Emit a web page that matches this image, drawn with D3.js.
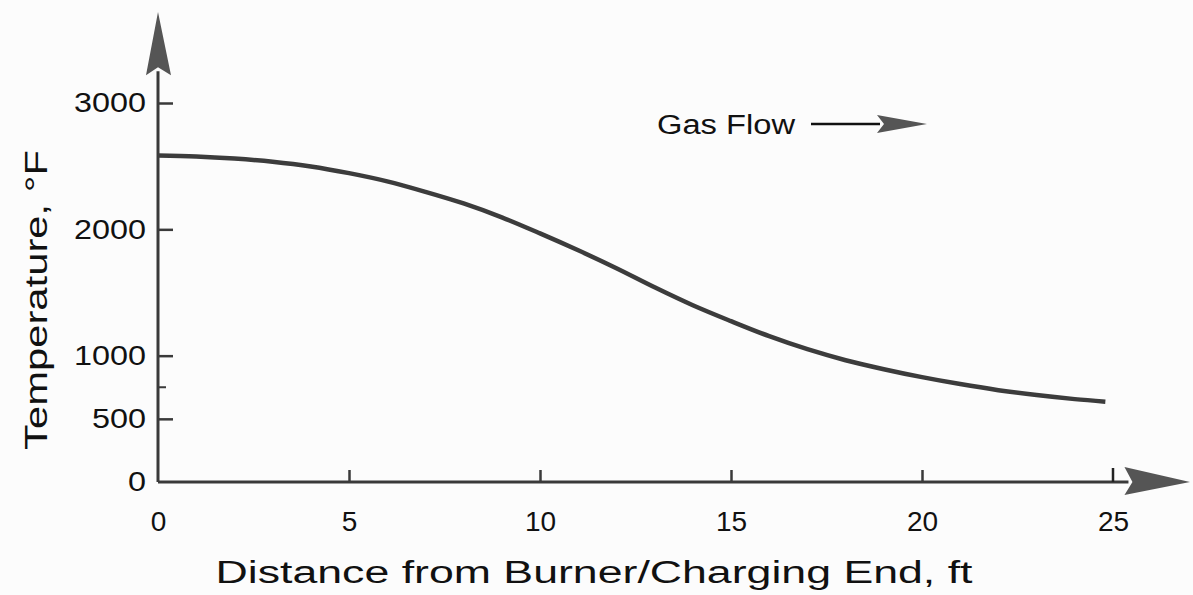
<!DOCTYPE html>
<meta charset="utf-8">
<script src="https://d3js.org/d3.v7.min.js"></script>
<style>
  body { margin: 0; background: #fcfcfc; }
  text { font-family: "Liberation Sans", Arial, sans-serif; fill: #111; }
</style>
<div id="chart"></div>
<script>
// values
var distance = [0, 1, 2, 3, 4, 5, 6, 7, 8, 9, 10, 11, 12, 13, 14, 15, 16, 17, 18, 19, 20, 21, 22, 23, 24, 24.8];
var temperature = [2585, 2577, 2560, 2535, 2498, 2445, 2380, 2297, 2205, 2095, 1968, 1834, 1692, 1541, 1399, 1273, 1154, 1051, 964, 893, 830, 775, 727, 688, 656, 636];
var xTicks = [0, 5, 10, 15, 20, 25];
var yTicks = [0, 500, 1000, 2000, 3000];
var yMinorTicks = [750];

var W = 1193, H = 595;
var plotLeft = 158, plotRight = 1113, plotBottom = 482, plotTop = 103;

var svg = d3.select("#chart").append("svg")
    .attr("width", W)
    .attr("height", H);

svg.append("rect").attr("width", W).attr("height", H).attr("fill", "#fcfcfc");

var x = d3.scaleLinear().domain([0, 25]).range([plotLeft, plotRight]);
var y = d3.scaleLinear().domain([0, 3000]).range([plotBottom, plotTop]);

var axisColor = "#3a3a3a";

// x axis line + arrow
var xEnd = x(25.3);
svg.append("line")
    .attr("x1", x(0)).attr("x2", xEnd + 4)
    .attr("y1", y(0)).attr("y2", y(0))
    .attr("stroke", axisColor).attr("stroke-width", 3);
svg.append("path")
    .attr("d", "M" + xEnd + "," + (y(0) - 15) + " L1190," + y(0) + " L" + xEnd + "," + (y(0) + 13) + " L" + (xEnd + 8) + "," + y(0) + "Z")
    .attr("fill", "#555");

// y axis line + arrow
var yEnd = y(3220);
svg.append("line")
    .attr("x1", x(0)).attr("x2", x(0))
    .attr("y1", y(0)).attr("y2", yEnd - 4)
    .attr("stroke", axisColor).attr("stroke-width", 3);
svg.append("path")
    .attr("d", "M" + (x(0) - 12) + "," + yEnd + " L" + x(0) + ",12 L" + (x(0) + 13) + "," + yEnd + " L" + x(0) + "," + (yEnd - 8) + "Z")
    .attr("fill", "#555");

// x ticks (pointing up) and labels
var xAxis = d3.axisBottom(x).tickValues(xTicks).tickSize(0).tickPadding(27).tickFormat(d3.format("d"));
var gx = svg.append("g").attr("transform", "translate(0," + y(0) + ")").call(xAxis);
gx.select(".domain").remove();
gx.selectAll(".tick line").attr("y2", -12).attr("stroke", axisColor).attr("stroke-width", 2.5);
gx.selectAll(".tick").filter(function (d) { return d === 0 || d === 25; }).select("line").remove();
gx.selectAll(".tick text")
    .attr("font-size", 28)
    .attr("font-family", "'Liberation Sans', Arial, sans-serif")
    .attr("dy", "0.35em").attr("y", 39)
    .attr("fill", "#222");

// y ticks (pointing right) and labels
var yAxis = d3.axisLeft(y).tickValues(yTicks).tickSize(0).tickPadding(12).tickFormat(d3.format("d"));
var gy = svg.append("g").attr("transform", "translate(" + x(0) + ",0)").call(yAxis);
gy.select(".domain").remove();
gy.selectAll(".tick line").attr("x2", 15).attr("stroke", axisColor).attr("stroke-width", 2.5);
gy.selectAll(".tick text")
    .attr("font-size", 28)
    .attr("font-family", "'Liberation Sans', Arial, sans-serif")
    .attr("textLength", function (d) { return String(d).length * 18; })
    .attr("lengthAdjust", "spacingAndGlyphs")
    .attr("fill", "#111");
gy.selectAll(".tick").filter(function (d) { return d === 0; }).select("line").remove();

svg.selectAll(".minor")
    .data(yMinorTicks)
    .enter().append("line")
    .attr("class", "minor")
    .attr("x1", x(0)).attr("x2", x(0) + 8)
    .attr("y1", function (d) { return y(d); }).attr("y2", function (d) { return y(d); })
    .attr("stroke", axisColor).attr("stroke-width", 2);

// 25 ft tick pointing up from axis
svg.append("line")
    .attr("x1", x(25)).attr("x2", x(25))
    .attr("y1", y(0)).attr("y2", y(0) - 14)
    .attr("stroke", "#222").attr("stroke-width", 2.5);

// temperature profile
var line = d3.line()
    .x(function (d, i) { return x(distance[i]); })
    .y(function (d) { return y(d); })
    .curve(d3.curveMonotoneX);

svg.append("path")
    .datum(temperature)
    .attr("d", line)
    .attr("fill", "none")
    .attr("stroke", "#3c3c3c")
    .attr("stroke-width", 4.5)
    .attr("stroke-linecap", "butt");

// gas flow annotation
svg.append("text")
    .attr("x", 657).attr("y", 134)
    .attr("font-size", 27)
    .attr("textLength", 138)
    .attr("lengthAdjust", "spacingAndGlyphs")
    .text("Gas Flow");
svg.append("line")
    .attr("x1", 811).attr("x2", 880)
    .attr("y1", 124).attr("y2", 124)
    .attr("stroke", "#111").attr("stroke-width", 2.5);
svg.append("path")
    .attr("d", "M877,115 L927,124 L877,133 L884,124Z")
    .attr("fill", "#555");

// axis titles
svg.append("text")
    .attr("x", 594).attr("y", 583)
    .attr("text-anchor", "middle")
    .attr("font-size", 31)
    .attr("textLength", 757)
    .attr("lengthAdjust", "spacingAndGlyphs")
    .attr("fill", "#222")
    .text("Distance from Burner/Charging End, ft");

svg.append("text")
    .attr("transform", "translate(47,300) rotate(-90)")
    .attr("text-anchor", "middle")
    .attr("font-size", 31)
    .attr("textLength", 300)
    .attr("lengthAdjust", "spacingAndGlyphs")
    .attr("fill", "#222")
    .text("Temperature, °F");
</script>
